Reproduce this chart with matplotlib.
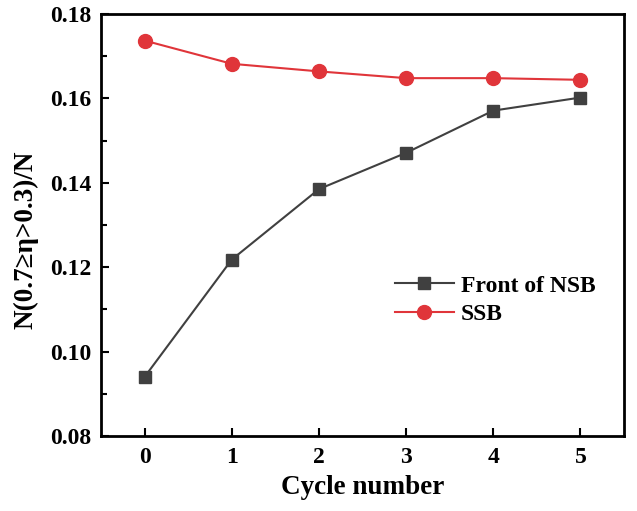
import matplotlib
matplotlib.use("Agg")
import matplotlib.pyplot as plt
from matplotlib.ticker import MultipleLocator

# data
cycles = [0, 1, 2, 3, 4, 5]
front_nsb = [0.0940, 0.1218, 0.1385, 0.1471, 0.1571, 0.1602]
ssb = [0.1737, 0.1682, 0.1664, 0.1648, 0.1648, 0.1644]

plt.rcParams["font.family"] = ["Liberation Serif", "DejaVu Serif"]
plt.rcParams["font.weight"] = "bold"

fig = plt.figure(figsize=(6.37, 5.11), dpi=100)
ax = fig.add_axes([0.1586, 0.1468, 0.821, 0.8258])

ax.plot(cycles, front_nsb, color="#404040", marker="s", markersize=9,
        linewidth=1.5, label="Front of NSB")
ax.plot(cycles, ssb, color="#e0353a", marker="o", markersize=10,
        linewidth=1.5, label="SSB")

ax.set_xlim(-0.5, 5.5)
ax.set_ylim(0.08, 0.18)
ax.set_xticks(cycles)
ax.yaxis.set_major_locator(MultipleLocator(0.02))
ax.yaxis.set_minor_locator(MultipleLocator(0.01))
ax.yaxis.set_major_formatter(plt.FormatStrFormatter("%.2f"))

ax.tick_params(which="both", direction="in", width=1.5, labelsize=17)
ax.tick_params(which="major", length=6)
ax.tick_params(which="minor", length=4)
ax.tick_params(axis="y", pad=7)
ax.tick_params(axis="x", pad=8)
for s in ax.spines.values():
    s.set_linewidth(2)

ax.set_xlabel("Cycle number", fontsize=19.5, fontweight="bold")
ax.set_ylabel("N(0.7≥η>0.3)/N", fontsize=19.5, fontweight="bold")
ax.xaxis.set_label_coords(0.5, -0.092)
ax.yaxis.set_label_coords(-0.12, 0.464)

ax.legend(loc="center left", bbox_to_anchor=(0.562, 0.322), frameon=False,
          handlelength=2.5, handletextpad=0.3, labelspacing=0.3,
          borderpad=0, borderaxespad=0,
          prop={"weight": "bold", "size": 17})

fig.savefig("out.png", dpi=100)
